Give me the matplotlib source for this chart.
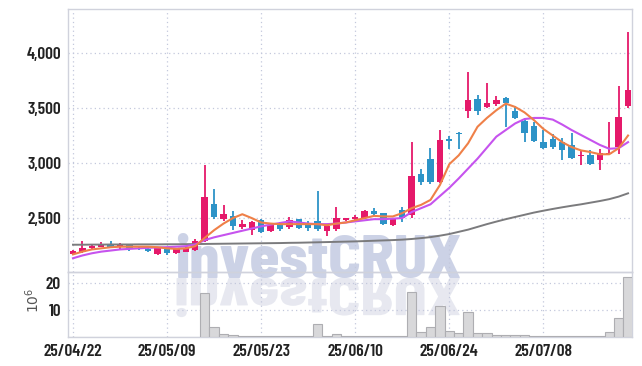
import matplotlib
matplotlib.use('Agg')
import matplotlib.pyplot as plt
import numpy as np
from matplotlib import font_manager
from matplotlib.textpath import TextPath
from matplotlib.patches import PathPatch
from matplotlib.font_manager import FontProperties
from matplotlib.transforms import Affine2D, IdentityTransform

FL = font_manager.fontManager.ttflist
names = {f.name for f in FL}


def exact_font(family, weight):
    for f in FL:
        if f.name == family and f.style == 'normal' and f.weight == weight \
                and 'italic' not in f.fname.lower():
            return FontProperties(fname=f.fname)
    if family in names:
        return FontProperties(family=family, weight=weight, style='normal')
    return FontProperties(family='DejaVu Sans', weight='bold', stretch='condensed')


FP = exact_font('Barlow Condensed', 600)
FPW = exact_font('Barlow Semi Condensed', 800)

# ---------------- data ----------------
date_labels = ['25/04/22', '25/05/09', '25/05/23', '25/06/10', '25/06/24', '25/07/08']
date_positions = [0, 10, 20, 30, 40, 50]

opens = [2170, 2190, 2225, 2240, 2260, 2240, 2255, 2245, 2215, 2170,
         2215, 2180, 2195, 2210, 2290, 2630, 2490, 2520, 2420, 2395,
         2480, 2380, 2440, 2420, 2490, 2440, 2470, 2380, 2400, 2485,
         2490, 2500, 2560, 2545, 2440, 2570, 2530, 2900, 3040, 2830,
         3220, 3275, 3470, 3580, 3510, 3540, 3590, 3470, 3380, 3340,
         3190, 3220, 3190, 3160, 3060, 3075, 3030, 3080, 3150, 3520]
closes = [2200, 2230, 2245, 2265, 2240, 2255, 2230, 2235, 2205, 2230,
          2185, 2220, 2230, 2290, 2690, 2510, 2535, 2425, 2445, 2465,
          2370, 2440, 2400, 2480, 2410, 2410, 2400, 2430, 2500, 2500,
          2510, 2560, 2540, 2450, 2490, 2500, 2880, 2830, 2830, 3210,
          3205, 3260, 3570, 3470, 3545, 3570, 3545, 3410, 3270, 3200,
          3140, 3150, 3120, 3050, 3075, 2990, 3090, 3095, 3420, 3660]
highs = [2210, 2290, 2255, 2285, 2290, 2275, 2260, 2250, 2225, 2235,
         2220, 2225, 2240, 2310, 2980, 2760, 2620, 2565, 2480, 2475,
         2490, 2450, 2460, 2510, 2495, 2470, 2750, 2440, 2600, 2505,
         2530, 2570, 2590, 2550, 2500, 2600, 3190, 2950, 3140, 3300,
         3250, 3280, 3830, 3620, 3730, 3610, 3600, 3520, 3410, 3370,
         3300, 3260, 3230, 3270, 3120, 3120, 3130, 3370, 3700, 4190]
lows = [2165, 2185, 2220, 2235, 2235, 2215, 2205, 2210, 2190, 2165,
        2160, 2170, 2190, 2205, 2280, 2490, 2475, 2390, 2400, 2350,
        2360, 2370, 2380, 2405, 2400, 2380, 2380, 2340, 2380, 2470,
        2460, 2495, 2530, 2440, 2430, 2460, 2500, 2800, 2810, 2820,
        3130, 3130, 3410, 3440, 3500, 3520, 3330, 3400, 3190, 3190,
        3130, 3130, 3030, 3040, 2980, 2980, 2940, 3075, 3080, 3500]

ma_orange = [2170, 2195, 2215, 2225, 2235, 2240, 2240, 2240, 2240, 2235,
             2225, 2220, 2225, 2245, 2320, 2390, 2450, 2500, 2535, 2500,
             2460, 2450, 2445, 2445, 2445, 2445, 2445, 2435, 2450, 2460,
             2480, 2500, 2520, 2515, 2515, 2545, 2590, 2620, 2665, 2800,
             2990, 3070, 3180, 3330, 3410, 3480, 3540, 3510, 3460, 3390,
             3310, 3250, 3190, 3145, 3115, 3100, 3080, 3080, 3135, 3250]
ma_purple = [2135, 2160, 2180, 2195, 2205, 2215, 2220, 2225, 2230, 2233,
             2236, 2240, 2245, 2260, 2300, 2325, 2345, 2365, 2385, 2405,
             2425, 2440, 2455, 2470, 2460, 2450, 2445, 2445, 2450, 2460,
             2470, 2480, 2490, 2490, 2495, 2500, 2555, 2590, 2625, 2700,
             2775, 2860, 2950, 3040, 3140, 3240, 3300, 3360, 3400, 3410,
             3410, 3395, 3350, 3300, 3255, 3210, 3165, 3130, 3135, 3190]
ma_gray = [2258, 2258, 2259, 2259, 2260, 2260, 2260, 2261, 2261, 2261,
           2262, 2262, 2263, 2264, 2265, 2266, 2267, 2268, 2269, 2270,
           2271, 2272, 2273, 2275, 2276, 2278, 2280, 2282, 2284, 2286,
           2288, 2291, 2294, 2297, 2300, 2304, 2310, 2318, 2327, 2340,
           2355, 2375, 2395, 2420, 2445, 2468, 2490, 2510, 2530, 2550,
           2567, 2583, 2598, 2612, 2625, 2640, 2655, 2672, 2695, 2725]

volumes = [0.03, 0.03, 0.03, 0.03, 0.03, 0.03, 0.03, 0.03, 0.03, 0.03,
           0.03, 0.03, 0.03, 0.1, 16.4, 3.6, 1.2, 0.6, 0.4, 0.3,
           0.2, 0.2, 0.2, 0.3, 0.2, 0.3, 4.8, 0.5, 1.1, 0.5,
           0.3, 0.4, 0.3, 0.3, 0.3, 0.4, 16.7, 1.9, 3.7, 11.5,
           2.1, 1.5, 9.3, 1.5, 1.5, 0.7, 0.6, 0.6, 0.6, 0.3,
           0.2, 0.2, 0.2, 0.2, 0.2, 0.2, 0.2, 1.9, 7.0, 22.0]

price_ticks = [2500, 3000, 3500, 4000]
volume_ticks = [10, 20]

# ---------------- figure ----------------
W, H = 642, 366
fig = plt.figure(figsize=(W / 100, H / 100), dpi=100)
fig.patch.set_facecolor('white')

ax = fig.add_axes([68 / W, 1 - 272 / H, 564 / W, 263 / H])
axv = fig.add_axes([68 / W, 1 - 337 / H, 564 / W, 65 / H], sharex=ax)
for a in (ax, axv):
    a.set_facecolor('none')
    for s in a.spines.values():
        s.set_color('#d0d2dc')
        s.set_linewidth(1.0)
    a.grid(True, color='#c3c8dc', linestyle=(0, (1, 2.5)), linewidth=0.9)
    a.set_axisbelow(True)
    a.tick_params(length=0)

n = len(opens)
x = np.arange(n)
o = np.array(opens, float)
c = np.array(closes, float)
up_col = '#e5196a'
dn_col = '#2d93c7'
cols = [up_col if cc >= oo else dn_col for oo, cc in zip(o, c)]

ax.vlines(x, lows, highs, colors=cols, linewidth=1.3, zorder=3)
bottom = np.minimum(o, c)
height = np.maximum(np.abs(c - o), 12)
ax.bar(x, height, bottom=bottom, width=0.68, color=cols, linewidth=0, zorder=4)

ax.plot(x, ma_gray, color='#7b7b7d', linewidth=1.4, zorder=5)
ax.plot(x, ma_purple, color='#c653ee', linewidth=1.5, zorder=5)
ax.plot(x, ma_orange, color='#ef8048', linewidth=1.5, zorder=6)

ax.set_xlim(-0.53, 59.42)
ax.set_ylim(2010, 4400)
ax.set_yticks(price_ticks)
ax.set_yticklabels([f'{v:,}' for v in price_ticks])
for t in ax.get_yticklabels():
    t.set_fontproperties(FP)
    t.set_fontsize(12.5)
    t.set_color('#222222')
ax.tick_params(axis='y', pad=5)
ax.set_xticks(date_positions)
plt.setp(ax.get_xticklabels(), visible=False)

axv.bar(x, volumes, width=1.0, color='#d8d8da', edgecolor='#aeaeb2',
        linewidth=0.8, zorder=3)
axv.set_ylim(0, 24)
axv.set_yticks(volume_ticks)
axv.set_yticklabels([str(v) for v in volume_ticks])
for t in axv.get_yticklabels():
    t.set_fontproperties(FP)
    t.set_fontsize(12.5)
    t.set_color('#222222')
axv.tick_params(axis='y', pad=5)
axv.set_xticks(date_positions)
axv.set_xticklabels(date_labels)
for t in axv.get_xticklabels():
    t.set_fontproperties(FP)
    t.set_fontsize(12.5)
    t.set_color('#222222')
axv.tick_params(axis='x', pad=5)

fig.text(33 / W, 1 - 300 / H, r'$10^6$', rotation=90, ha='center',
         va='center', fontsize=10, color='#555555')

# ---------------- watermark ----------------
wm_x, wm_base, wm_width = 318, 278, 287
wm = fig.text(wm_x / W, 1 - wm_base / H, 'investCRUX', ha='center', va='baseline',
              fontproperties=FPW, fontsize=45, color='#c4cbe2',
              alpha=0.85, zorder=-1)
fig.canvas.draw()
bb = wm.get_window_extent()
fs = 45 * wm_width / bb.width
wm.set_fontsize(fs)

tp = TextPath((0, 0), 'investCRUX', size=fs * 100 / 72, prop=FPW)
ext = tp.get_extents()
tr = Affine2D().translate(-(ext.x0 + ext.x1) / 2, 0).scale(1, -0.88) \
    .translate(wm_x, H - wm_base)
patch = PathPatch(tr.transform_path(tp), facecolor='#e3e5ee', edgecolor='none',
                  transform=IdentityTransform(), zorder=-1, alpha=0.85)
fig.add_artist(patch)

fig.savefig('out.png', dpi=100)
